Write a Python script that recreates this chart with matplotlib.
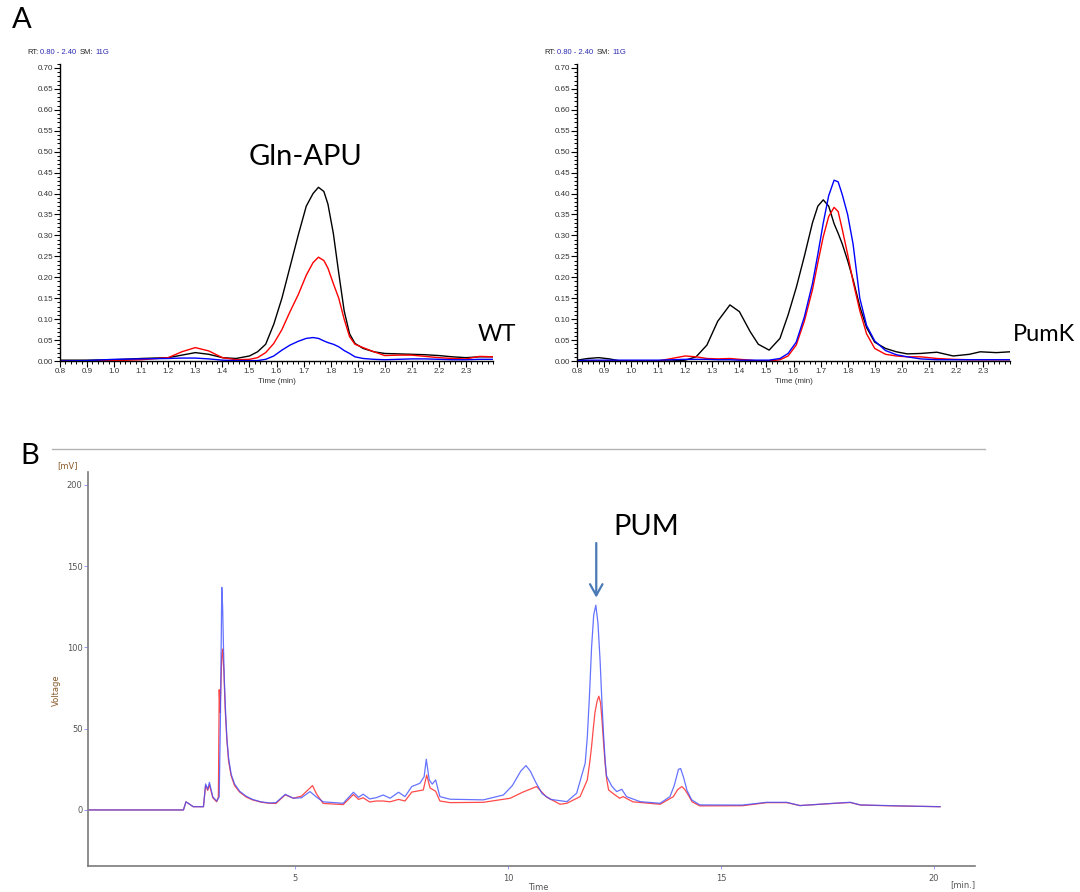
import matplotlib
matplotlib.use("Agg")
import matplotlib.pyplot as plt
from matplotlib.lines import Line2D
from matplotlib.ticker import MultipleLocator, FormatStrFormatter

# ---------------- Panel A data (WT) ----------------
wt_time = [0.80, 0.90, 1.00, 1.10, 1.20, 1.25, 1.30, 1.35, 1.40, 1.45, 1.50, 1.53, 1.56,
           1.59, 1.62, 1.65, 1.68, 1.71, 1.735, 1.755, 1.775, 1.79, 1.81, 1.83, 1.85,
           1.87, 1.89, 1.92, 1.96, 2.00, 2.05, 2.10, 2.15, 2.20, 2.25, 2.30, 2.35, 2.40]
wt_black = [0.002, 0.002, 0.003, 0.006, 0.008, 0.014, 0.020, 0.016, 0.008, 0.006, 0.012, 0.022, 0.040,
            0.088, 0.150, 0.225, 0.300, 0.370, 0.400, 0.415, 0.405, 0.375, 0.305, 0.210, 0.120,
            0.065, 0.042, 0.030, 0.022, 0.018, 0.017, 0.016, 0.015, 0.013, 0.010, 0.008, 0.010, 0.010]
wt_red = [0.000, 0.000, 0.001, 0.003, 0.008, 0.022, 0.032, 0.024, 0.008, 0.003, 0.004, 0.008, 0.020,
          0.042, 0.075, 0.118, 0.158, 0.205, 0.235, 0.248, 0.240, 0.222, 0.185, 0.150, 0.100,
          0.058, 0.040, 0.032, 0.022, 0.013, 0.014, 0.014, 0.011, 0.008, 0.006, 0.005, 0.011, 0.010]
wt_blue = [0.000, 0.001, 0.004, 0.005, 0.006, 0.007, 0.007, 0.005, 0.002, 0.001, 0.001, 0.001, 0.004,
           0.012, 0.026, 0.038, 0.047, 0.054, 0.056, 0.054, 0.048, 0.044, 0.040, 0.034, 0.025,
           0.018, 0.010, 0.006, 0.004, 0.003, 0.004, 0.005, 0.005, 0.004, 0.003, 0.003, 0.004, 0.004]

# ---------------- Panel A data (PumK) ----------------
pk_time = [0.80, 0.84, 0.88, 0.92, 0.96, 1.00, 1.10, 1.15, 1.20, 1.24, 1.28, 1.32, 1.365, 1.40,
           1.44, 1.47, 1.51, 1.55, 1.58, 1.61, 1.64, 1.67, 1.69, 1.71, 1.73, 1.75, 1.765,
           1.78, 1.80, 1.82, 1.845, 1.87, 1.90, 1.94, 1.98, 2.02, 2.07, 2.13, 2.19, 2.25,
           2.29, 2.35, 2.40]
pk_black = [0.002, 0.006, 0.008, 0.005, 0.000, 0.000, 0.000, 0.000, 0.002, 0.010, 0.038, 0.095, 0.134, 0.118,
            0.070, 0.040, 0.026, 0.054, 0.110, 0.175, 0.250, 0.330, 0.370, 0.385, 0.370, 0.328, 0.305,
            0.280, 0.240, 0.195, 0.130, 0.080, 0.045, 0.030, 0.022, 0.017, 0.018, 0.021, 0.012, 0.016,
            0.022, 0.020, 0.022]
pk_red = [0.000, 0.000, 0.000, 0.000, 0.000, 0.000, 0.000, 0.006, 0.012, 0.010, 0.006, 0.005, 0.006, 0.004,
          0.002, 0.000, 0.000, 0.003, 0.012, 0.038, 0.095, 0.170, 0.235, 0.297, 0.345, 0.367, 0.357,
          0.315, 0.255, 0.190, 0.120, 0.065, 0.030, 0.016, 0.012, 0.010, 0.010, 0.006, 0.004, 0.003,
          0.003, 0.003, 0.003]
pk_blue = [0.001, 0.002, 0.002, 0.002, 0.002, 0.002, 0.002, 0.003, 0.004, 0.004, 0.004, 0.003, 0.003, 0.002,
           0.002, 0.002, 0.002, 0.006, 0.018, 0.045, 0.105, 0.185, 0.255, 0.330, 0.395, 0.432, 0.428,
           0.398, 0.350, 0.280, 0.150, 0.085, 0.048, 0.025, 0.015, 0.010, 0.005, 0.003, 0.003, 0.003,
           0.003, 0.003, 0.003]

# ---------------- Panel B data ----------------
b_blue_time = [0.14, 2.38, 2.44, 2.61, 2.85, 2.90, 2.95, 2.99, 3.07, 3.16, 3.22, 3.25, 3.28, 3.30,
               3.32, 3.34, 3.37, 3.40, 3.44, 3.50, 3.58, 3.70, 3.85, 4.00, 4.20, 4.40, 4.55, 4.77,
               4.96, 5.15, 5.35, 5.50, 5.66, 6.13, 6.37, 6.49, 6.60, 6.75, 6.90, 7.07, 7.23, 7.43,
               7.58, 7.74, 7.93, 8.03, 8.08, 8.15, 8.22, 8.30, 8.40, 8.64, 9.42, 9.89, 10.10, 10.30,
               10.42, 10.52, 10.65, 10.80, 11.00, 11.38, 11.61, 11.81, 11.86, 11.91, 11.96, 12.01,
               12.06, 12.11, 12.16, 12.20, 12.24, 12.28, 12.31, 12.43, 12.55, 12.67, 12.78, 13.10,
               13.57, 13.80, 13.90, 14.00, 14.05, 14.12, 14.20, 14.31, 14.50, 15.50, 16.07, 16.54,
               16.85, 17.64, 18.03, 18.27, 19.20, 20.14]
b_blue = [0, 0, 5, 2, 2, 16, 12.7, 17, 8, 5.5, 8, 60, 137, 125,
          100, 80, 60, 44, 32, 22, 16, 11.5, 8.5, 6.5, 5.0, 4.3, 4.5, 9.6,
          7.2, 7.5, 11.3, 8, 5, 4.1, 10.9, 7.8, 9.7, 6.8, 7.5, 9.2, 7.2, 10.9,
          8.2, 14.4, 16.4, 20.5, 31.2, 18.5, 15.9, 18.5, 8.2, 6.6, 6.2, 9.2, 15, 24,
          27.3, 24, 17, 10, 6.5, 5.1, 10.3, 28.7, 45, 70, 100, 120,
          126, 115, 92, 68, 47, 30, 21, 14.8, 11.3, 12.7, 8.2, 5.1,
          4.1, 8.2, 15, 25, 25.5, 20, 12, 6.2, 3.1, 3.0, 4.7, 4.7,
          2.7, 4.1, 4.7, 3.1, 2.5, 2.0]

b_red_time = [0.14, 2.38, 2.44, 2.61, 2.85, 2.90, 2.95, 2.99, 3.07, 3.16, 3.20, 3.22, 3.24, 3.28,
              3.30, 3.33, 3.36, 3.40, 3.44, 3.50, 3.58, 3.70, 3.85, 4.00, 4.20, 4.40, 4.55, 4.77,
              4.96, 5.15, 5.41, 5.50, 5.66, 6.13, 6.37, 6.49, 6.60, 6.75, 6.90, 7.07, 7.23, 7.43,
              7.58, 7.74, 8.01, 8.09, 8.17, 8.30, 8.40, 8.64, 9.42, 10.05, 10.35, 10.67, 10.90,
              11.22, 11.38, 11.69, 11.86, 11.92, 11.96, 12.00, 12.04, 12.09, 12.13, 12.17, 12.20,
              12.24, 12.28, 12.32, 12.36, 12.48, 12.62, 12.70, 12.93, 13.57, 13.88, 13.98, 14.08,
              14.15, 14.23, 14.32, 14.50, 15.50, 16.07, 16.54, 16.85, 17.64, 18.03, 18.27, 19.20, 20.14]
b_red = [0, 0, 5, 2, 2, 15, 12, 15.5, 7.5, 5, 8, 74, 60, 95,
         99, 85, 62, 43, 30, 21, 15, 11, 8, 6.2, 4.8, 4.1, 4, 9.3,
         7.2, 8.5, 15, 10, 4, 3.3, 9.5, 6.5, 7.5, 4.9, 5.5, 5.5, 5, 6.5,
         5.5, 11, 12.3, 21.5, 13.5, 11.5, 5.5, 4.5, 4.7, 7.2, 11, 14.4, 8,
         3.5, 4.1, 8.2, 18.5, 30, 39, 50, 60, 67, 70, 66, 57,
         42, 28, 18, 12.3, 9.8, 7.2, 8.2, 5, 3.5, 8.2, 12.5, 14.4,
         12.5, 9.2, 5, 2.5, 2.6, 4.5, 4.5, 2.7, 4.0, 4.6, 3.0, 2.4, 2.0]

a_xticks = [0.8, 0.9, 1.0, 1.1, 1.2, 1.3, 1.4, 1.5, 1.6, 1.7, 1.8, 1.9, 2.0, 2.1, 2.2, 2.3]
a_yticks = [0.00, 0.05, 0.10, 0.15, 0.20, 0.25, 0.30, 0.35, 0.40, 0.45, 0.50, 0.55, 0.60, 0.65, 0.70]
b_xticks = [5, 10, 15, 20]
b_yticks = [0, 50, 100, 150, 200]

W, H = 1080, 892
fig = plt.figure(figsize=(W / 100, H / 100), dpi=100)
fig.patch.set_facecolor("white")

def fx(px):
    return px / W

def fy(py):
    return 1 - py / H

BIG = ["Lato", "DejaVu Sans"]
SMALL = ["Liberation Sans", "DejaVu Sans"]

def panel_a(left_px, t, k, r, b, label, label_xy):
    ax = fig.add_axes([fx(left_px), fy(361), (1010 - 577) / W, (361 - 63.8) / H])
    ax.plot(t, k, color="black", lw=1.0)
    ax.plot(t, r, color="#ff0000", lw=1.0)
    ax.plot(t, b, color="#0000ff", lw=1.0)
    ax.set_xlim(0.8, 2.40)
    ax.set_ylim(0, 0.71)
    ax.set_xticks(a_xticks)
    ax.set_yticks(a_yticks)
    ax.xaxis.set_major_formatter(FormatStrFormatter("%.1f"))
    ax.yaxis.set_major_formatter(FormatStrFormatter("%.2f"))
    ax.xaxis.set_minor_locator(MultipleLocator(0.02))
    ax.yaxis.set_minor_locator(MultipleLocator(0.01))
    for s in ["top", "right"]:
        ax.spines[s].set_visible(False)
    for s in ["left", "bottom"]:
        ax.spines[s].set_linewidth(1.0)
    ax.tick_params(which="major", direction="out", length=4, width=0.8, pad=1,
                   labelsize=5.8, labelcolor="#333333")
    ax.tick_params(which="minor", direction="out", length=2, width=0.7)
    for lab in ax.get_xticklabels() + ax.get_yticklabels():
        lab.set_family(SMALL)
    ax.set_xlabel("Time (min)", fontsize=5.8, family=SMALL, color="#333333", labelpad=2)
    base = left_px - 33
    fig.text(fx(base), fy(53), "RT:", fontsize=5.5, family=SMALL, color="#222222", va="center")
    fig.text(fx(base + 13), fy(53), "0.80 - 2.40", fontsize=5.5, family=SMALL, color="#2b2bb0", va="center")
    fig.text(fx(base + 53), fy(53), "SM:", fontsize=5.5, family=SMALL, color="#222222", va="center")
    fig.text(fx(base + 68), fy(53), "11G", fontsize=5.5, family=SMALL, color="#2b2bb0", va="center")
    fig.text(fx(label_xy[0]), fy(label_xy[1]), label, fontsize=17, family=BIG, color="black",
             ha="center", va="center")
    return ax

fig.text(fx(22), fy(20), "A", fontsize=21, family=BIG, ha="center", va="center")
ax1 = panel_a(60, wt_time, wt_black, wt_red, wt_blue, "WT", (497, 335))
ax2 = panel_a(577, pk_time, pk_black, pk_red, pk_blue, "PumK", (1044, 335))
fig.text(fx(306), fy(157), "Gln-APU", fontsize=21, family=BIG, ha="center", va="center")

# ---------------- Panel B ----------------
fig.text(fx(30), fy(456), "B", fontsize=21, family=BIG, ha="center", va="center")
fig.add_artist(Line2D([fx(52), fx(985)], [fy(449), fy(449)], color="#b4b4b4", lw=1.0))

axb = fig.add_axes([fx(88), fy(866), (975 - 88) / W, (866 - 472) / H])
axb.plot(b_red_time, b_red, color="#ff2a2a", lw=0.9, alpha=0.85)
axb.plot(b_blue_time, b_blue, color="#3f50ff", lw=0.9, alpha=0.8)
axb.set_xlim(0.14, 20.96)
axb.set_ylim(-34.5, 208)
axb.set_xticks(b_xticks)
axb.set_yticks(b_yticks)
for s in ["top", "right"]:
    axb.spines[s].set_visible(False)
for s in ["left", "bottom"]:
    axb.spines[s].set_color("#7a7a7a")
    axb.spines[s].set_linewidth(1.2)
axb.tick_params(axis="y", direction="out", length=3, width=0.6, color="#8a8aff",
                labelsize=6, labelcolor="#555555", pad=1)
axb.tick_params(axis="x", direction="out", length=2, width=0.6, color="#8a8aff",
                labelsize=6, labelcolor="#555555", pad=4)
fig.text(fx(538), fy(888), "Time", fontsize=6, color="#555555", ha="center", va="center")
fig.text(fx(963), fy(885), "[min.]", fontsize=6, color="#555555", ha="center", va="center")
fig.text(fx(68), fy(466), "[mV]", fontsize=6, color="#8b5a2b", ha="center", va="center")
fig.text(fx(56), fy(690), "Voltage", fontsize=6, color="#8b5a2b", ha="center", va="center",
         rotation=90)

axb.annotate("", xy=(12.07, 129), xytext=(12.07, 166),
             arrowprops=dict(arrowstyle="->,head_length=0.8,head_width=0.45",
                             color="#4a7ab5", lw=1.6))
fig.text(fx(646), fy(527), "PUM", fontsize=21, family=BIG, ha="center", va="center")

fig.savefig("out.png", dpi=100, facecolor="white")
